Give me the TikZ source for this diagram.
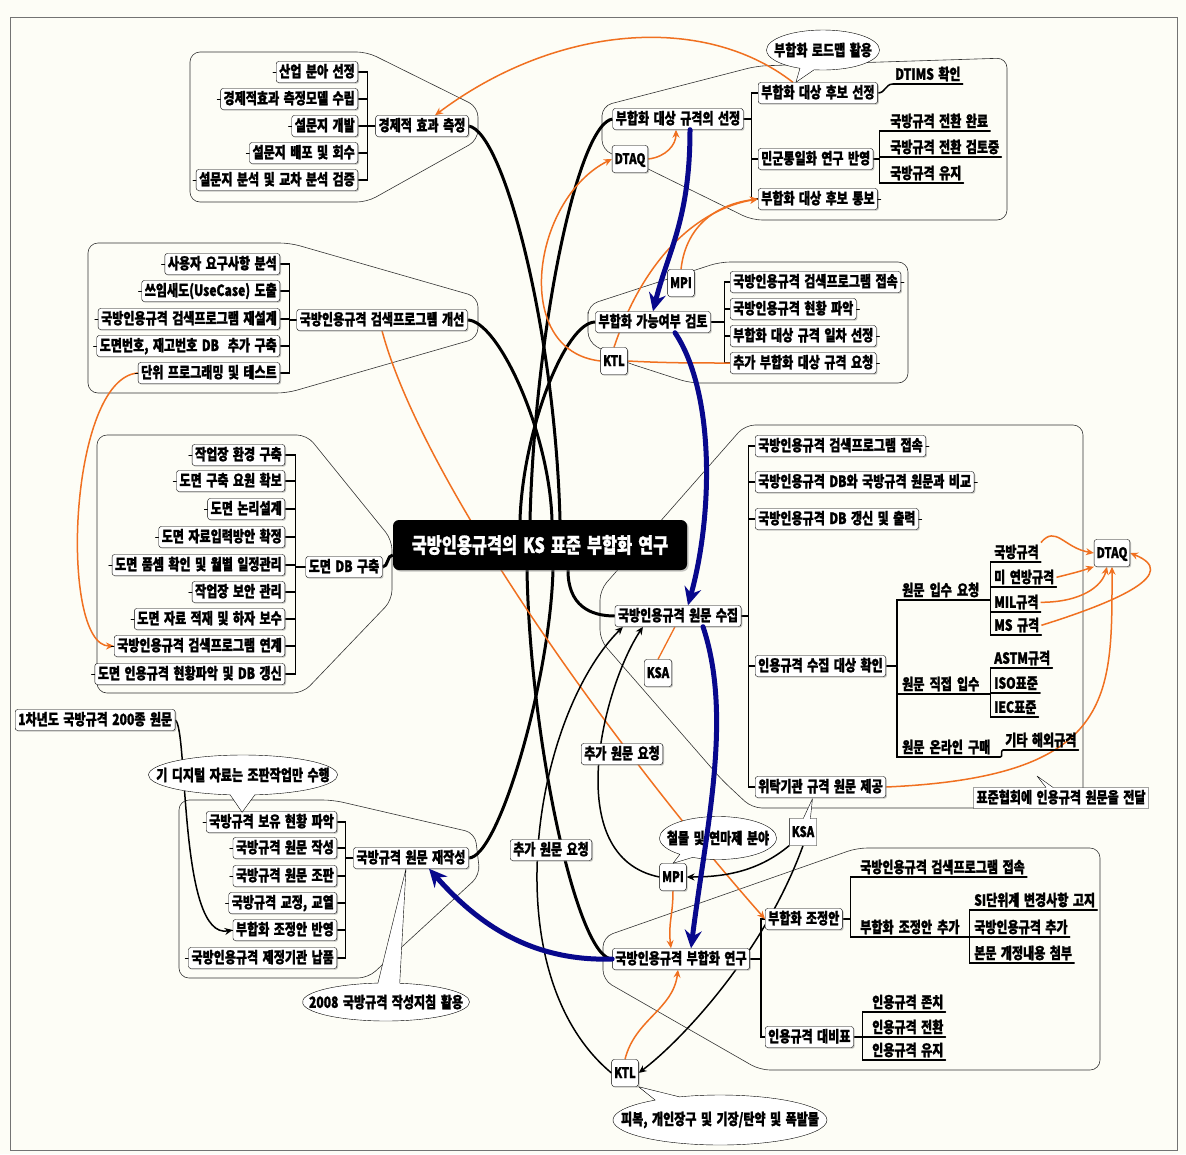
\documentclass[tikz,border=0pt]{standalone}
\usepackage{fontspec}
\newfontfamily\krfont{Noto Sans CJK KR}[FakeStretch=0.78,WordSpace=1.6,BoldFeatures={FakeBold=1.2}]
\usetikzlibrary{arrows.meta,calc,shapes.geometric,shapes.callouts,shadows}
\definecolor{bgcream}{RGB}{253,253,246}
\definecolor{flowblue}{RGB}{8,8,140}
\definecolor{reforange}{RGB}{240,112,32}
\newcommand{\tagfont}{\krfont\bfseries\fontsize{14.5}{16}\selectfont}
\pgfdeclarelayer{back}
\pgfdeclarelayer{wires}
\pgfsetlayers{back,wires,main}

\begin{document}
\begin{tikzpicture}[x=1pt, y=-1pt, line cap=round, line join=round,
  font=\krfont\bfseries\fontsize{15.5}{17}\selectfont,
  mbox/.style={draw, fill=white, rounded corners=2.5pt, inner xsep=3pt, inner ysep=2.5pt,
    text height=13pt, text depth=3pt,
    drop shadow={shadow xshift=1.2pt, shadow yshift=-1.2pt, fill=black!45}},
  lch/.style={mbox, anchor=east, append after command={(\tikzlastnode.west) edge[thick] +(-3,0)}},
  rch/.style={mbox, anchor=west, append after command={(\tikzlastnode.east) edge[thick] +(3,0)}},
  tag/.style={mbox, inner xsep=2.5pt, minimum height=27pt, font=\tagfont},
  leaf/.style={anchor=south west, inner xsep=2pt, inner ysep=2pt, text height=13pt, text depth=2pt,
    append after command={(\tikzlastnode.south west) edge[line width=1.3pt] (\tikzlastnode.south east)}},
  root/.style={fill=black, text=white, rounded corners=6pt, minimum width=294pt, minimum height=50pt,
    font=\krfont\bfseries\fontsize{21}{24}\selectfont,
    drop shadow={shadow xshift=1.5pt, shadow yshift=-1.5pt, fill=black!45}},
  bubble/.style={ellipse callout, draw, fill=white, inner xsep=-80pt, inner ysep=-30pt},
  note/.style={rectangle callout, draw, fill=white, inner xsep=3pt, inner ysep=2.5pt,
    text height=13pt, text depth=3pt},
  grp/.style={draw=black!80, line width=0.6pt, rounded corners=10pt},
  trunk/.style={line width=3pt},
  twig/.style={line width=1.5pt},
  flow/.style={flowblue, line width=5pt, -{Stealth[length=18pt,width=17pt,inset=6pt]}},
  ref/.style={reforange, line width=1.5pt, -{Stealth[length=8pt,width=7pt]}},
  req/.style={line width=1.5pt, -{Stealth[length=8pt,width=7pt]}}]

\useasboundingbox (0,0) rectangle (1186,1154);
\begin{pgfonlayer}{back}
  \fill[bgcream] (0,0) rectangle (1186,1154);
  \draw[black!55] (10,17) rectangle (1177,1150);
\end{pgfonlayer}

% ---------- centre ----------
\node[root] (root) at (540,545) {국방인용규격의 KS 표준 부합화 연구};

% ---------- left: economic effect ----------
\node[mbox] (econ) at (422,126) {경제적 효과 측정};
\node[lch] (e1) at (358,72) {산업 분아 선정};
\node[lch] (e2) at (358,99) {경제적효과 측정모델 수립};
\node[lch] (e3) at (358,126) {설문지 개발};
\node[lch] (e4) at (358,153) {설문지 배포 및 회수};
\node[lch] (e5) at (358,180) {설문지 분석 및 교차 분석 검증};

% ---------- left: search program ----------
\node[mbox] (dev) at (382,320) {국방인용규격 검색프로그램 개선};
\node[lch] (d1) at (280,264) {사용자 요구사항 분석};
\node[lch] (d2) at (280,291) {쓰임새도(UseCase) 도출};
\node[lch] (d3) at (280,319) {국방인용규격 검색프로그램 재설계};
\node[lch] (d4) at (280,346) {도면번호, 재고번호 DB\ \ 추가 구축};
\node[lch] (d5) at (280,373) {단위 프로그래밍 및 테스트};

% ---------- left: drawing DB ----------
\node[mbox] (dwg) at (344,567) {도면 DB 구축};
\node[lch] (g1) at (285,455) {작업장 환경 구축};
\node[lch] (g2) at (285,481) {도면 구축 요원 확보};
\node[lch] (g3) at (285,509) {도면 논리설계};
\node[lch] (g4) at (285,537) {도면 자료입력방안 확정};
\node[lch] (g5) at (285,565) {도면 품셈 확인 및 월별 일정관리};
\node[lch] (g6) at (285,592) {작업장 보안 관리};
\node[lch] (g7) at (285,619) {도면 자료 적재 및 하자 보수};
\node[lch] (g8) at (285,646) {국방인용규격 검색프로그램 연계};
\node[lch] (g9) at (285,674) {도면 인용규격 현황파악 및 DB 갱신};

% ---------- left: rewrite ----------
\node[mbox] (rew) at (411,858) {국방규격 원문 재작성};
\node[lch] (r1) at (337,822) {국방규격 보유 현황 파악};
\node[lch] (r2) at (337,848) {국방규격 원문 작성};
\node[lch] (r3) at (337,876) {국방규격 원문 조판};
\node[lch] (r4) at (337,903) {국방규격 교정, 교열};
\node[lch] (r5) at (337,930) {부합화 조정안 반영};
\node[lch] (r6) at (337,958) {국방인용규격 제정기관 납품};
\node[mbox, anchor=west] (y1) at (15,720) {1차년도 국방규격 200종 원문};
\node[bubble, minimum width=189pt, minimum height=40pt,
  callout absolute pointer={($(r1.north west)+(36,1)$)}] (b1) at (243,775) {기 디지털 자료는 조판작업만 수행};
\node[bubble, minimum width=167pt, minimum height=38pt,
  callout absolute pointer={($(rew.south)+(-5,0)$)}] (b2) at (386,1002) {2008 국방규격 작성지침 활용};

% ---------- right: selection ----------
\node[mbox] (sel) at (678,119) {부합화 대상 규격의 선정};
\node[mbox, anchor=west] (s1) at (758,93) {부합화 대상 후보 선정};
\node[mbox, anchor=west] (s2) at (758,159) {민군통일화 연구 반영};
\node[rch] (s3) at (758,199) {부합화 대상 후보 통보};
\node[leaf] (dtm) at (893,84) {DTIMS 확인};
\node[leaf] (l1) at (888,131) {국방규격 전환 완료};
\node[leaf] (l2) at (888,157) {국방규격 전환 검토중};
\node[leaf] (l3) at (888,183) {국방규격 유지};
\node[tag] (dtq1) at (630,159) {DTAQ};
\node[bubble, minimum width=113pt, minimum height=40pt,
  callout absolute pointer={($(s1.north)+(-22,0)$)}] (b3) at (823,50) {부합화 로드맵 활용};

% ---------- right: feasibility ----------
\node[mbox] (chk) at (653,322) {부합화 가능여부 검토};
\node[rch] (c1) at (730,282) {국방인용규격 검색프로그램 접속};
\node[rch] (c2) at (730,309) {국방인용규격 현황 파악};
\node[rch] (c3) at (730,336) {부합화 대상 규격 일차 선정};
\node[rch] (c4) at (730,363) {추가 부합화 대상 규격 요청};
\node[tag] (mpi1) at (681,283) {MPI};
\node[tag] (ktl1) at (614,361) {KTL};

% ---------- right: collection ----------
\node[mbox] (col) at (678,616) {국방인용규격 원문 수집};
\node[rch] (k1) at (755,446) {국방인용규격 검색프로그램 접속};
\node[rch] (k2) at (755,482) {국방인용규격 DB와 국방규격 원문과 비교};
\node[rch] (k3) at (755,519) {국방인용규격 DB 갱신 및 출력};
\node[mbox, anchor=west] (k4) at (755,666) {인용규격 수집 대상 확인};
\node[mbox, anchor=west] (k5) at (755,787) {위탁기관 규격 원문 제공};
\node[leaf, text width=84pt] (q1) at (900,600) {원문 입수 요청};
\node[leaf, text width=84pt] (q2) at (900,694) {원문 직접 입수};
\node[leaf, text width=96pt] (q3) at (900,757) {원문 온라인 구매};
\node[leaf] (q11) at (992,562) {국방규격};
\node[leaf] (q12) at (992,587) {미 연방규격};
\node[leaf] (q13) at (992,612) {MIL규격};
\node[leaf] (q14) at (992,635) {MS 규격};
\node[leaf] (q21) at (992,668) {ASTM규격};
\node[leaf] (q22) at (992,693) {ISO표준};
\node[leaf] (q23) at (992,717) {IEC표준};
\node[leaf] (q31) at (1003,750) {기타 해외규격};
\node[tag] (dtq2) at (1112,553) {DTAQ};
\node[note, callout absolute pointer={(1037,776)}] (n1) at (1061,798) {표준협회에 인용규격 원문을 전달};
\node[tag] (ksa1) at (658,673) {KSA};
\node[mbox] (req1) at (622,754) {추가 원문 요청};
\node[mbox] (req2) at (551,850) {추가 원문 요청};
\node[note, inner xsep=2.5pt, minimum height=27pt, font=\tagfont,
  callout absolute pointer={($(k5.south)+(-8,1)$)}] (ksa2) at (803,832) {KSA};
\node[tag] (mpi2) at (673,877) {MPI};
\node[bubble, minimum width=117pt, minimum height=43pt,
  callout absolute pointer={(mpi2.north)}] (b4) at (718,838) {철물 및 연마제 분야};

% ---------- right: harmonisation study ----------
\node[mbox] (stu) at (681,959) {국방인용규격 부합화 연구};
\node[mbox, anchor=west] (u1) at (765,919) {부합화 조정안};
\node[mbox, anchor=west] (u2) at (765,1037) {인용규격 대비표};
\node[leaf] (v1) at (858,877) {국방인용규격 검색프로그램 접속};
\node[leaf, text width=105pt] (v2) at (858,937) {부합화 조정안 추가};
\node[leaf] (w1) at (972,910) {SI단위계 변경사항 고지};
\node[leaf] (w2) at (972,937) {국방인용규격 추가};
\node[leaf] (w3) at (972,963) {본문 개정내용 첨부};
\node[leaf] (x1) at (870,1012) {인용규격 존치};
\node[leaf] (x2) at (870,1037) {인용규격 전환};
\node[leaf] (x3) at (870,1060) {인용규격 유지};
\node[tag] (ktl2) at (625,1073) {KTL};
\node[bubble, minimum width=214pt, minimum height=50pt,
  callout absolute pointer={(ktl2.south east)}] (b5) at (720,1120) {피복, 개인장구 및 기장/탄약 및 폭발물};

% ---------- group outlines ----------
\begin{pgfonlayer}{back}
  \draw[grp] (280,52) -- (367,52) -- (478,107) -- (478,140) -- (367,202) -- (190,202) -- (190,52) -- cycle;
  \draw[grp] (200,243) -- (290,243) -- (478,297) -- (478,338) -- (287,393) -- (88,393) -- (88,243) -- cycle;
  \draw[grp] (200,435) -- (307,435) -- (392,540) -- (392,600) -- (303,693) -- (97,693) -- (97,435) -- cycle;
  \draw[grp] (250,800) -- (333,800) -- (475,833) -- (480,875) -- (368,978) -- (179,978) -- (179,800) -- cycle;
  \draw[grp] (602,125) -- (602,106) -- (757,66) -- (1007,58) -- (1007,220) -- (752,220) -- (640,165) -- (602,150) -- cycle;
  \draw[grp] (588,322) -- (588,305) -- (720,262) -- (908,262) -- (908,383) -- (690,383) -- (625,362) -- (588,342) -- cycle;
  \draw[grp] (900,425) -- (1083,425) -- (1083,808) -- (752,808) -- (722,780) -- (600,640) -- (600,590) -- (745,425) -- cycle;
  \draw[grp] (603,958) -- (603,937) -- (857,848) -- (1100,848) -- (1100,1070) -- (760,1070) -- (603,980) -- cycle;
\end{pgfonlayer}

\begin{pgfonlayer}{wires}
  % trunk lines
  \draw[trunk] (econ.east) .. controls +(35,5) and +(-5,-190) .. ($(root.north)+(20,0)$);
  \draw[trunk] (dev.east) .. controls +(30,0) and +(-3,-90) .. ($(root.north)+(12,0)$);
  \draw[trunk] (sel.west) .. controls +(-35,5) and +(5,-190) .. ($(root.north)+(-10,0)$);
  \draw[trunk] (chk.west) .. controls +(-30,0) and +(3,-90) .. ($(root.north)+(-20,0)$);
  \draw[trunk] (dwg.east) .. controls +(6,0) and +(-6,0) .. ($(root.west)+(0,10)$);
  \draw[trunk] (rew.east) .. controls +(30,0) and +(-3,110) .. ($(root.south)+(13,0)$);
  \draw[trunk] (stu.west) .. controls +(-35,0) and +(3,170) .. ($(root.south)+(-13,0)$);
  \draw[trunk] ($(root.south)+(28,0)$) .. controls +(0,35) and +(-25,0) .. (col.west);

  % branches
  \foreach \c in {e1,e2,e3,e4,e5} \draw[twig] (econ.west) -- ++(-8,0) |- (\c.east);
  \foreach \c in {d1,d2,d3,d4,d5} \draw[twig] (dev.west) -- ++(-7,0) |- (\c.east);
  \foreach \c in {g1,g2,g3,g4,g5,g6,g7,g8,g9} \draw[twig] (dwg.west) -- ++(-10,0) |- (\c.east);
  \foreach \c in {r1,r2,r3,r4,r5,r6} \draw[twig] (rew.west) -- ++(-8,0) |- (\c.east);
  \foreach \c in {s1,s2,s3} \draw[twig] (sel.east) -- ++(8,0) |- (\c.west);
  \draw[twig] (s1.east) .. controls +(8,0) and +(-8,0) .. (dtm.south west);
  \foreach \c in {l1,l2,l3} \draw[twig] (s2.east) -- ++(6,0) |- (\c.south west);
  \foreach \c in {c1,c2,c3,c4} \draw[twig] (chk.east) -- ++(14,0) |- (\c.west);
  \foreach \c in {k1,k2,k3,k4,k5} \draw[twig] (col.east) -- ++(7,0) |- (\c.west);
  \foreach \c in {q1,q2,q3} \draw[twig] (k4.east) -- ++(11,0) |- (\c.south west);
  \foreach \c in {q11,q12,q13,q14} \draw[twig] (q1.south east) -- ++(2,0) |- (\c.south west);
  \foreach \c in {q21,q22,q23} \draw[twig] (q2.south east) -- ++(2,0) |- (\c.south west);
  \draw[twig] (q3.south east) .. controls +(3,0) and +(-3,0) .. (q31.south west);
  \foreach \c in {u1,u2} \draw[twig] (stu.east) -- ++(11,0) |- (\c.west);
  \foreach \c in {v1,v2} \draw[twig] (u1.east) -- ++(8,0) |- (\c.south west);
  \foreach \c in {w1,w2,w3} \draw[twig] (v2.south east) -- ++(2,0) |- (\c.south west);
  \foreach \c in {x1,x2,x3} \draw[twig] (u2.east) -- ++(9,0) |- (\c.south west);

  % orange links
  \draw[ref] ($(s1.north)+(-25,0)$) .. controls +(-90,-70) and +(120,-90) .. ($(econ.north)+(13,0)$);
  \draw[ref] (dtq1.east) .. controls +(18,-2) and +(0,15) .. ($(sel.south)+(-2,0)$);
  \draw[ref] (ktl1.west) .. controls +(-90,-10) and +(-80,40) .. (dtq1.west);
  \draw[ref] (mpi1.north) .. controls +(5,-45) and +(-40,5) .. (s3.west);
  \draw[ref] (ktl1.north) .. controls +(30,-90) and +(-60,10) .. (s3.west);
  \draw[reforange, line width=1.5pt] (ktl1.east) .. controls +(40,2) and +(-40,0) .. (c4.west);
  \draw[reforange, line width=1.3pt] (ksa1.north) -- ($(col.south)+(-3,0)$);
  \draw[ref] (d5.west) .. controls +(-70,5) and +(-55,0) .. (g8.west);
  \draw[ref] (dev.south) .. controls +(40,150) and +(-150,-170) .. (u1.west);
  \draw[ref] (mpi2.south) .. controls +(0,25) and +(-3,-25) .. ($(stu.north)+(-10,0)$);
  \draw[ref] (ktl2.north) .. controls +(10,-40) and +(-5,40) .. ($(stu.south)+(-3,0)$);
  \draw[ref] (q11.north east) .. controls +(15,-18) and +(-30,-5) .. (dtq2.west);
  \draw[ref] (q12.east) .. controls +(20,-5) and +(-15,5) .. (dtq2.south west);
  \draw[ref] (q13.east) .. controls +(40,0) and +(-5,20) .. ($(dtq2.south)+(-5,0)$);
  \draw[ref] (q14.east) .. controls +(80,-25) and +(50,20) .. (dtq2.east);
  \draw[ref] (k5.east) .. controls +(230,-10) and +(0,130) .. (dtq2.south);

  % black requests
  \draw[req] (y1.east) .. controls +(13,10) and +(-54,10) .. (r5.west);
  \draw[req] (mpi2.west) .. controls +(-100,-20) and +(-40,60) .. ($(col.south)+(-35,0)$);
  \draw[req] (ktl2.west) .. controls +(-120,-100) and +(-90,90) .. ($(col.south)+(-55,0)$);
  \draw[req] (ksa2.south west) .. controls +(-30,25) and +(40,0) .. (mpi2.east);
  \draw[req] (ksa2.south) .. controls +(-40,110) and +(40,-30) .. (ktl2.east);
\end{pgfonlayer}

% ---------- main flow ----------
\draw[flow] ($(sel.south)+(12,0)$) .. controls +(0,90) and +(15,-60) .. (chk.north);
\draw[flow] ($(chk.south)+(22,0)$) .. controls +(40,60) and +(25,-90) .. ($(col.north)+(10,0)$);
\draw[flow] ($(col.south)+(25,0)$) .. controls +(30,90) and +(15,-120) .. ($(stu.north)+(10,0)$);
\draw[flow] (stu.west) .. controls +(-90,3) and +(40,45) .. ($(rew.south)+(18,0)$);

\end{tikzpicture}
\end{document}
